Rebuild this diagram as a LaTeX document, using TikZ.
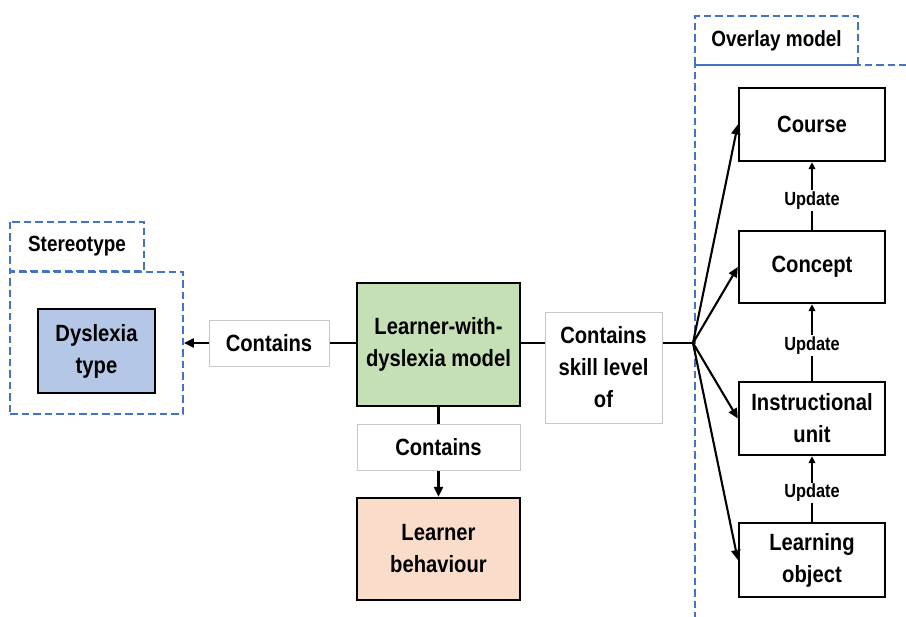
\documentclass[tikz,border=0pt]{standalone}
\usepackage{fontspec}
\setmainfont{Liberation Sans}[FakeStretch=0.86]
\usetikzlibrary{arrows.meta}
\definecolor{dashblue}{HTML}{4472C4}
\definecolor{greenfill}{HTML}{C5E0B4}
\definecolor{bluefill}{HTML}{B4C7E7}
\definecolor{peachfill}{HTML}{FADCCB}
\definecolor{lblgray}{HTML}{C8C8C8}
\newcommand{\mainfnt}{\fontsize{23.5}{32}\selectfont\bfseries}
\newcommand{\tabfnt}{\fontsize{22}{26}\selectfont\bfseries}
\newcommand{\updfnt}{\fontsize{19}{22}\selectfont\bfseries}
\tikzset{
  box/.style={draw, line width=2.3pt, align=center, font=\mainfnt, inner sep=0pt},
  lbl/.style={draw=lblgray, line width=0.8pt, fill=white, align=center, font=\mainfnt, inner sep=0pt},
  upd/.style={fill=white, font=\updfnt, inner sep=1.5pt},
  grp/.style={draw=dashblue, line width=1.7pt, dash pattern=on 7.5pt off 4pt},
  tabtxt/.style={font=\tabfnt},
  conn/.style={line width=2.1pt, -{Triangle[length=10pt,width=9pt]}},
  plain/.style={line width=2.1pt},
  updarrow/.style={line width=1.7pt, -{Triangle[length=7pt,width=6.5pt]}},
}
\begin{document}
\begin{tikzpicture}[x=1pt,y=-1pt]
\useasboundingbox (0,0) rectangle (906,617);

% Stereotype group
\draw[grp] (10,222) rectangle (144,271);
\node[tabtxt] (stab) at (77,246) {Stereotype};
\node[grp, minimum width=173pt, minimum height=142pt, inner sep=0pt] (sgrp) at (96.5,343) {};
\node[box, fill=bluefill, minimum width=117pt, minimum height=84pt] (dys) at (96.5,351) {Dyslexia\\type};

% central model
\node[box, fill=greenfill, minimum width=163pt, minimum height=123pt] (learner) at (438.5,344.5) {Learner-with-\\dyslexia model};
\node[box, fill=peachfill, minimum width=163pt, minimum height=102pt] (behav) at (438.5,549) {Learner\\behaviour};

% Overlay model group (open to the right and bottom)
\draw[grp] (695,65) rectangle (858,16);
\node[tabtxt] (otab) at (776.5,41) {Overlay model};
\draw[grp] (695,620) -- (695,65) -- (910,65);

\node[box, minimum width=146pt, minimum height=73pt] (course) at (812,124.5) {Course};
\node[box, minimum width=146pt, minimum height=72pt] (concept) at (812,267) {Concept};
\node[box, minimum width=146pt, minimum height=73pt] (instr) at (812,418.5) {Instructional\\unit};
\node[box, minimum width=146pt, minimum height=74pt] (lobj) at (812,560) {Learning\\object};

\coordinate (fan) at (693,343);

% connectors
\draw[conn] (learner.west |- fan) -- (sgrp.east |- fan);
\draw[conn] (learner.south) -- (behav.north);
\draw[plain] (learner.east |- fan) -- (fan);
\foreach \t in {course,concept,instr,lobj}
  \draw[conn] (fan) -- (\t.west);
\draw[updarrow] (concept.north) -- (course.south) node[pos=0.43, upd] (u1) {Update};
\draw[updarrow] (instr.north) -- (concept.south) node[pos=0.46, upd] (u2) {Update};
\draw[updarrow] (lobj.north) -- (instr.south) node[pos=0.44, upd] (u3) {Update};

% connector labels
\node[lbl, minimum width=120pt, minimum height=46pt] (cl) at (269,343.5) {Contains};
\node[lbl, minimum width=163pt, minimum height=46pt] (cb) at (438.5,447) {Contains};
\node[lbl, minimum width=117pt, minimum height=111pt] (cs) at (603.5,367.5) {Contains\\skill level\\of};
\end{tikzpicture}
\end{document}
